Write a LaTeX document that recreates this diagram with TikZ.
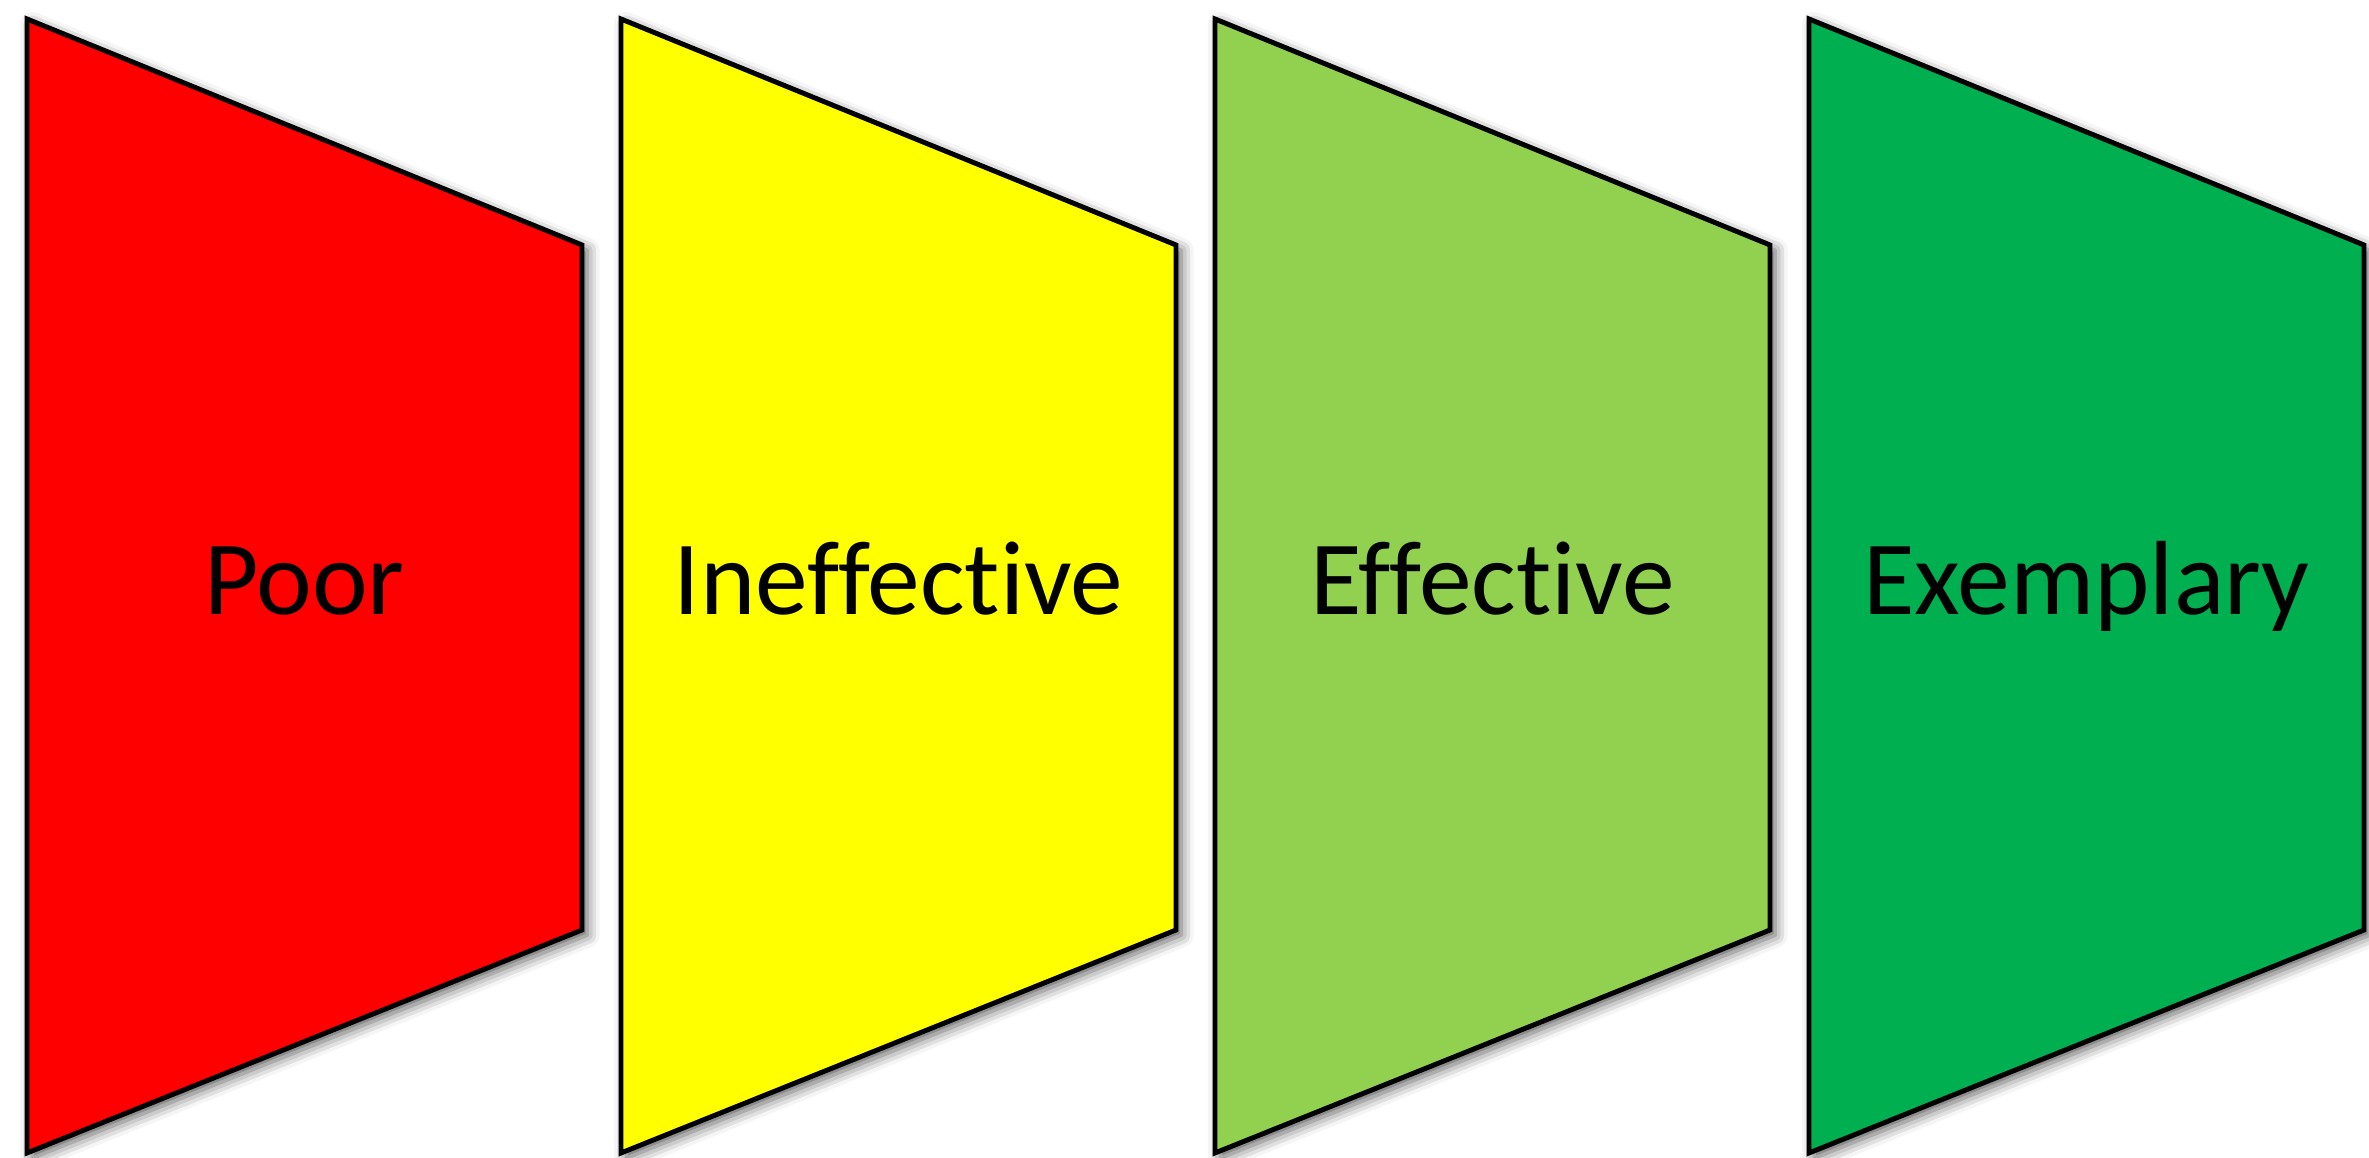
\documentclass[tikz,border=0pt]{standalone}
\usepackage{fontspec}
\setmainfont{Carlito}[Ligatures=NoCommon]
\usetikzlibrary{shadows.blur}
\definecolor{ratepoor}{HTML}{FF0000}
\definecolor{rateineff}{HTML}{FFFF00}
\definecolor{rateeff}{HTML}{92D050}
\definecolor{rateexem}{HTML}{00B050}

\tikzset{
  panel/.style={draw=black, line width=1.4pt, line join=miter,
    blur shadow={shadow xshift=1.5pt, shadow yshift=-1.5pt, shadow blur radius=3.5pt, shadow opacity=65}},
  rating/.style={font=\fontsize{30}{36}\selectfont, text=black, anchor=base}
}

\begin{document}
\begin{tikzpicture}
            \useasboundingbox (0,0) rectangle (23.69,11.58);
            % Rating panels
            \path[panel, fill=ratepoor] (0.27,11.39) -- (5.82,9.13) -- (5.82,2.28) -- (0.27,0.05) -- cycle;
            \path[panel, fill=rateineff] (6.21,11.39) -- (11.76,9.13) -- (11.76,2.28) -- (6.21,0.05) -- cycle;
            \path[panel, fill=rateeff] (12.15,11.39) -- (17.70,9.13) -- (17.70,2.28) -- (12.15,0.05) -- cycle;
            \path[panel, fill=rateexem] (18.09,11.39) -- (23.64,9.13) -- (23.64,2.28) -- (18.09,0.05) -- cycle;

            % Labels
            \node[rating] (poor) at (3.045,5.43) {Poor};
            \node[rating] (ineff) at (8.985,5.43) {Ineffective};
            \node[rating] (eff) at (14.925,5.43) {Effective};
            \node[rating] (exem) at (20.865,5.43) {Exemplary};
        \end{tikzpicture}
\end{document}
